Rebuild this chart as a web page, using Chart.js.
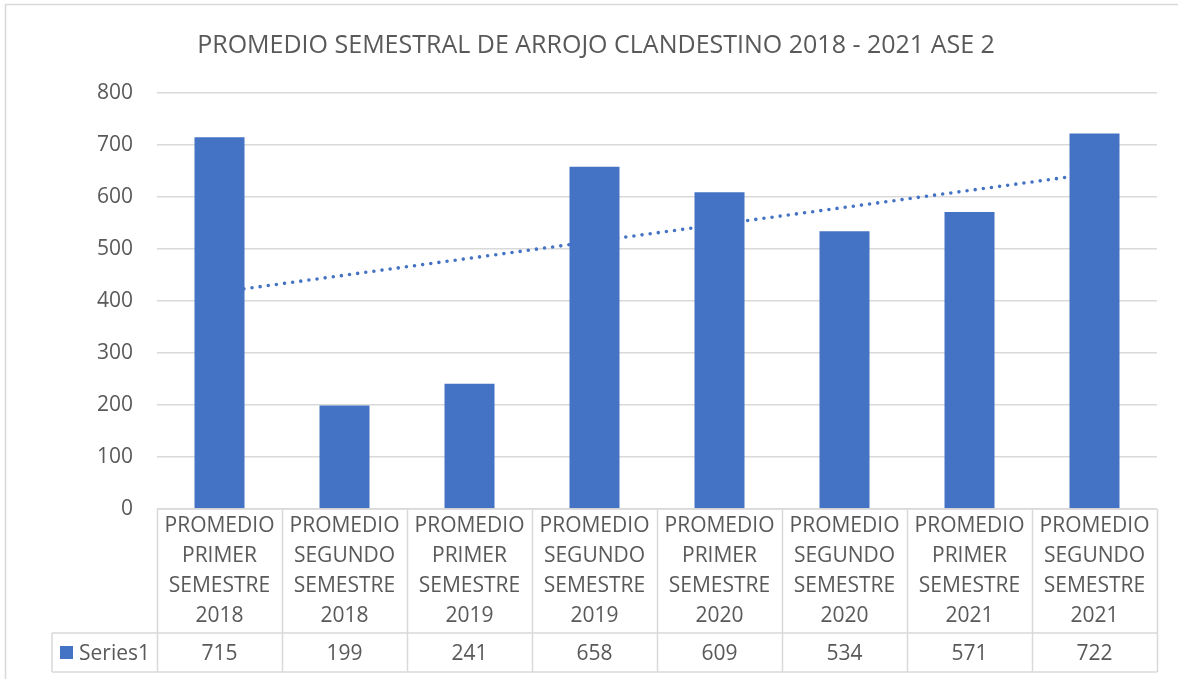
<!DOCTYPE html>
<html>
<head>
<meta charset="utf-8">
<script src="https://cdn.jsdelivr.net/npm/chart.js@4.4.1/dist/chart.umd.min.js"></script>
<style>
  html, body { margin: 0; padding: 0; background: #fff; }
</style>
</head>
<body>
<canvas id="chart" width="1178" height="679"></canvas>
<script>
const chartTitle = 'PROMEDIO SEMESTRAL DE ARROJO CLANDESTINO 2018 - 2021 ASE 2';
const seriesName = 'Series1';
const categories = [
  ['PROMEDIO', 'PRIMER', 'SEMESTRE', '2018'],
  ['PROMEDIO', 'SEGUNDO', 'SEMESTRE', '2018'],
  ['PROMEDIO', 'PRIMER', 'SEMESTRE', '2019'],
  ['PROMEDIO', 'SEGUNDO', 'SEMESTRE', '2019'],
  ['PROMEDIO', 'PRIMER', 'SEMESTRE', '2020'],
  ['PROMEDIO', 'SEGUNDO', 'SEMESTRE', '2020'],
  ['PROMEDIO', 'PRIMER', 'SEMESTRE', '2021'],
  ['PROMEDIO', 'SEGUNDO', 'SEMESTRE', '2021'],
];
const values = [715, 199, 241, 658, 609, 534, 571, 722];
const yMin = 0, yMax = 800, yStep = 100;

const BLUE = '#4472c4';
const TEXT = '#595959';
const LINE = '#d9d9d9';
const FONT = "'Open Sans', sans-serif";

// linear trendline (least squares over category index), like Excel's
function linearTrend(vals) {
  const n = vals.length;
  const mx = (n + 1) / 2;
  const my = vals.reduce((a, b) => a + b, 0) / n;
  let sxy = 0, sxx = 0;
  vals.forEach((v, i) => { sxy += (i + 1 - mx) * (v - my); sxx += (i + 1 - mx) ** 2; });
  const slope = sxy / sxx;
  return vals.map((_, i) => my + slope * (i + 1 - mx));
}

const tablePlugin = {
  id: 'dataTable',
  beforeDraw(chart) {
    const ctx = chart.ctx;
    ctx.save();
    ctx.fillStyle = '#fff';
    ctx.fillRect(0, 0, chart.width, chart.height);
    ctx.strokeStyle = LINE;
    ctx.lineWidth = 1.5;
    ctx.strokeRect(5.5, 4.5, chart.width + 20, chart.height + 20);
    // title, centred a little right of the plot like the original
    ctx.fillStyle = TEXT;
    ctx.font = `25px ${FONT}`;
    ctx.textAlign = 'center';
    ctx.textBaseline = 'middle';
    ctx.fillText(chartTitle, 596, 46);
    ctx.restore();
  },
  afterDraw(chart) {
    const ctx = chart.ctx;
    const x = chart.scales.x;
    const area = chart.chartArea;
    const half = (x.getPixelForValue(1) - x.getPixelForValue(0)) / 2;
    const top = area.bottom, mid = 633, bot = 672, legLeft = 52;

    ctx.save();
    ctx.strokeStyle = LINE;
    ctx.lineWidth = 1.5;
    ctx.beginPath();
    ctx.moveTo(area.left, top); ctx.lineTo(area.right, top);
    ctx.moveTo(legLeft, mid); ctx.lineTo(area.right, mid);
    ctx.moveTo(legLeft, bot); ctx.lineTo(area.right, bot);
    ctx.moveTo(legLeft, mid); ctx.lineTo(legLeft, bot);
    for (let i = 0; i <= categories.length; i++) {
      const px = Math.round(x.getPixelForValue(i) - half) + 0.5;
      ctx.moveTo(px, top); ctx.lineTo(px, bot);
    }
    ctx.stroke();

    ctx.fillStyle = TEXT;
    ctx.font = `21px ${FONT}`;
    ctx.textAlign = 'center';
    ctx.textBaseline = 'middle';
    categories.forEach((lines, i) => {
      const cx = x.getPixelForValue(i);
      lines.forEach((t, j) => ctx.fillText(t, cx, top + 17 + j * 30));
      ctx.fillText(String(values[i]), cx, (mid + bot) / 2 + 2);
    });

    ctx.fillStyle = BLUE;
    ctx.fillRect(60, 646, 13, 13);
    ctx.fillStyle = TEXT;
    ctx.textAlign = 'left';
    ctx.fillText(seriesName, 79, (mid + bot) / 2 + 2);
    ctx.restore();
  },
};

new Chart(document.getElementById('chart'), {
  data: {
    labels: categories,
    datasets: [
      {
        type: 'bar',
        label: seriesName,
        data: values,
        backgroundColor: BLUE,
        categoryPercentage: 1,
        barPercentage: 0.4,
        order: 0,
      },
      {
        type: 'line',
        label: 'Linear (Series1)',
        data: linearTrend(values),
        borderColor: BLUE,
        borderWidth: 3.6,
        borderDash: [0, 8.2],
        borderCapStyle: 'round',
        pointRadius: 0,
        tension: 0,
        fill: false,
        order: 1,
      },
    ],
  },
  options: {
    responsive: false,
    devicePixelRatio: 1,
    animation: false,
    layout: { padding: { left: 0, right: 21, top: 93, bottom: 170 } },
    plugins: {
      legend: { display: false },
      tooltip: { enabled: false },
      title: { display: false },
    },
    scales: {
      x: { display: false },
      y: {
        min: yMin, max: yMax,
        ticks: { stepSize: yStep, color: TEXT, padding: 24, font: { family: FONT, size: 21 } },
        grid: { color: LINE, lineWidth: 1.5, drawTicks: false },
        border: { display: false },
        afterFit: s => { s.width = 157; },
      },
    },
  },
  plugins: [tablePlugin],
});
</script>
</body>
</html>
